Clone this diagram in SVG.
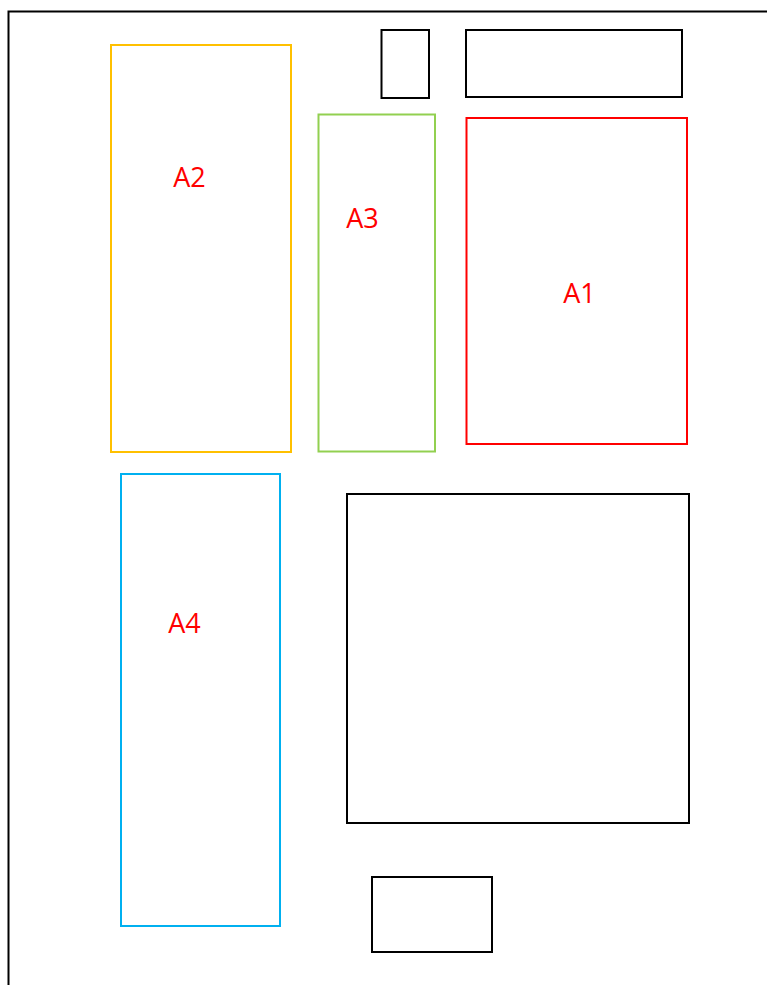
<svg xmlns="http://www.w3.org/2000/svg" width="767" height="985" viewBox="0 0 767 985">
<style>
rect{fill:none;stroke-width:2}
.k{stroke:#000}
.lbl{font-family:"Open Sans","Liberation Sans",sans-serif;font-size:27px;fill:#ff0000;text-anchor:middle}
</style>
<rect x="0" y="0" width="767" height="985" fill="#fff" stroke="none" style="fill:#fff"/>
<path d="M8.5 985 V11.5 H767" fill="none" stroke="#000" stroke-width="2"/>
<g id="A2"><rect x="111" y="45" width="180" height="407" stroke="#FFC000"/><text class="lbl" x="189.5" y="187">A2</text></g>
<g id="A3"><rect x="318.5" y="114.5" width="116.5" height="337" stroke="#92D050"/><text class="lbl" x="362.5" y="228">A3</text></g>
<g id="A1"><rect x="466.5" y="118" width="220.5" height="326" stroke="#FF0000"/><text class="lbl" x="579.5" y="303">A1</text></g>
<g id="A4"><rect x="121" y="474" width="159" height="452" stroke="#00B0F0"/><text class="lbl" x="184.5" y="633">A4</text></g>
<g id="box-small-top"><rect class="k" x="381.5" y="30" width="47.5" height="68"/></g>
<g id="box-wide-top"><rect class="k" x="466" y="30" width="216" height="67"/></g>
<g id="box-large"><rect class="k" x="347" y="494" width="342" height="329"/></g>
<g id="box-bottom"><rect class="k" x="372" y="877" width="120" height="75"/></g>
<g id="connectors"/>
</svg>
